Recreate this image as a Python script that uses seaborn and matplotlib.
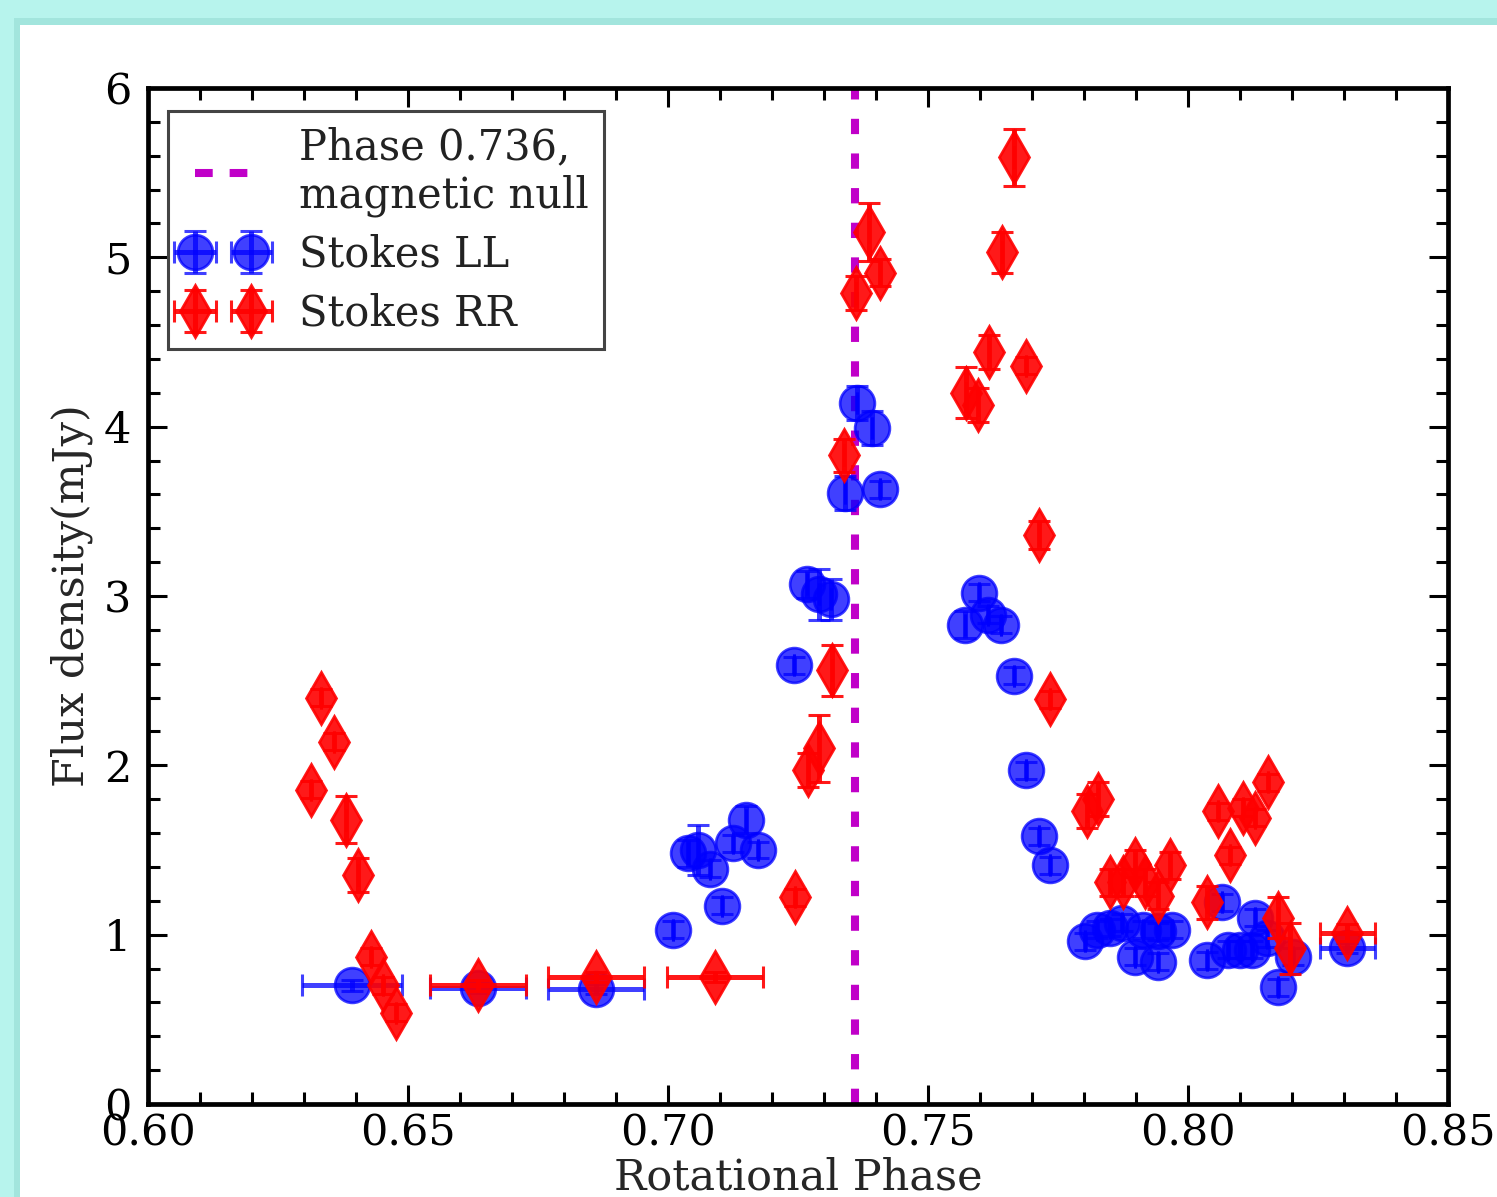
import numpy as np
import pandas as pd
import matplotlib
matplotlib.use("Agg")
import matplotlib.pyplot as plt
from matplotlib.patches import Rectangle
from matplotlib.lines import Line2D
from matplotlib.ticker import MultipleLocator
import seaborn as sns

# ---------------- data ----------------
ll_phase = [0.6392, 0.6635, 0.6862,
            0.7010, 0.7038, 0.7058, 0.7081, 0.7104, 0.7125, 0.7150, 0.7173,
            0.7242, 0.7267, 0.7290, 0.7313,
            0.7340, 0.7363, 0.7392, 0.7408,
            0.7571, 0.7598, 0.7615, 0.7640, 0.7665, 0.7688, 0.7713, 0.7735,
            0.7802, 0.7825, 0.7850, 0.7873, 0.7898, 0.7913, 0.7942, 0.7942,
            0.7969, 0.8037, 0.8065, 0.8077, 0.8100, 0.8123, 0.8129, 0.8152,
            0.8173, 0.8202, 0.8306]
ll_flux = [0.70, 0.685, 0.68,
           1.03, 1.48, 1.50, 1.39, 1.17, 1.54, 1.68, 1.50,
           2.59, 3.07, 3.01, 2.98,
           3.61, 4.14, 3.99, 3.63,
           2.83, 3.02, 2.89, 2.83, 2.53, 1.97, 1.58, 1.41,
           0.96, 1.03, 1.04, 1.07, 0.87, 1.03, 0.84, 1.02,
           1.03, 0.85, 1.19, 0.91, 0.91, 0.91, 1.10, 0.98,
           0.69, 0.87, 0.92]
ll_xerr = [0.0096, 0.0092, 0.0092] + [0.0] * 42 + [0.0053]
ll_yerr = [0.03, 0.03, 0.03,
           0.05, 0.08, 0.15, 0.05, 0.05, 0.05, 0.08, 0.05,
           0.05, 0.08, 0.15, 0.12,
           0.10, 0.10, 0.10, 0.05,
           0.08, 0.05, 0.05, 0.05, 0.05, 0.05, 0.05, 0.05,
           0.05, 0.05, 0.05, 0.05, 0.05, 0.05, 0.05, 0.05,
           0.05, 0.05, 0.05, 0.05, 0.05, 0.05, 0.05, 0.05,
           0.05, 0.05, 0.03]

rr_phase = [0.6313, 0.6333, 0.6358, 0.6381, 0.6404, 0.6429, 0.6452, 0.6477,
            0.6635, 0.6862, 0.7090,
            0.7244, 0.7269, 0.7290, 0.7315, 0.7338, 0.7362, 0.7387, 0.7408,
            0.7573, 0.7596, 0.7617, 0.7642, 0.7665, 0.7688, 0.7713, 0.7735,
            0.7806, 0.7827, 0.7850, 0.7875, 0.7898, 0.7917, 0.7942, 0.7965,
            0.8037, 0.8058, 0.8081, 0.8106, 0.8129, 0.8154, 0.8173, 0.8196,
            0.8306]
rr_flux = [1.855, 2.40, 2.14, 1.68, 1.35, 0.87, 0.70, 0.54,
           0.70, 0.75, 0.75,
           1.22, 1.97, 2.10, 2.56, 3.83, 4.79, 5.15, 4.91,
           4.20, 4.13, 4.44, 5.03, 5.59, 4.36, 3.36, 2.39,
           1.73, 1.80, 1.31, 1.31, 1.42, 1.31, 1.23, 1.41,
           1.19, 1.73, 1.47, 1.75, 1.69, 1.90, 1.10, 0.92,
           1.01]
rr_xerr = [0.0] * 8 + [0.0092, 0.0092, 0.0092] + [0.0] * 32 + [0.0053]
rr_yerr = [0.05, 0.05, 0.05, 0.14, 0.10, 0.05, 0.05, 0.05,
           0.03, 0.03, 0.03,
           0.05, 0.10, 0.20, 0.15, 0.10, 0.10, 0.17, 0.08,
           0.15, 0.10, 0.10, 0.12, 0.17, 0.05, 0.08, 0.05,
           0.10, 0.10, 0.08, 0.08, 0.08, 0.08, 0.08, 0.08,
           0.10, 0.05, 0.05, 0.05, 0.05, 0.05, 0.12, 0.15,
           0.05]

null_phase = 0.736
null_label = "Phase 0.736,\nmagnetic null"
ll_label = "Stokes LL"
rr_label = "Stokes RR"
x_ticks = [0.60, 0.65, 0.70, 0.75, 0.80, 0.85]
y_ticks = [0, 1, 2, 3, 4, 5, 6]

ll = pd.DataFrame({"phase": ll_phase, "flux": ll_flux, "xerr": ll_xerr, "yerr": ll_yerr})
rr = pd.DataFrame({"phase": rr_phase, "flux": rr_flux, "xerr": rr_xerr, "yerr": rr_yerr})

# ---------------- style ----------------
sns.set_theme(style="ticks")
plt.rcParams["font.family"] = ["DejaVu Serif"]
plt.rcParams["mathtext.fontset"] = "dejavuserif"

fig = plt.figure(figsize=(7.485, 5.985), dpi=200)
fig.patch.set_facecolor("#b7f4ed")
# shadow + white panel
fig.add_artist(Rectangle((0.0095, 0.0), 0.995, 0.985, transform=fig.transFigure,
                         facecolor="#8fd8cf", edgecolor="none", alpha=0.5, zorder=-3))
fig.add_artist(Rectangle((0.0134, 0.0), 0.99, 0.979, transform=fig.transFigure,
                         facecolor="white", edgecolor="none", zorder=-2))

ax = fig.add_axes([0.0989, 0.0777, 0.8684, 0.8488])
ax.set_facecolor("white")

ax.axvline(null_phase, color="#c000c8", linestyle=(0, (1.9, 2.4)), lw=2.9, zorder=1)

ax.errorbar(ll["phase"], ll["flux"], xerr=ll["xerr"], yerr=ll["yerr"],
            fmt="o", color="blue", ms=12.5, alpha=0.75, mec="blue",
            elinewidth=1.8, capsize=3.8, capthick=1.1, zorder=2, label=ll_label)
ax.errorbar(rr["phase"], rr["flux"], xerr=rr["xerr"], yerr=rr["yerr"],
            fmt="d", color="red", ms=13, alpha=0.9, mec="red",
            elinewidth=1.8, capsize=3.8, capthick=1.1, zorder=3, label=rr_label)

ax.set_xlim(0.60, 0.85)
ax.set_ylim(0, 6)
ax.set_xticks(x_ticks)
ax.set_xticklabels([f"{v:.2f}" for v in x_ticks])
ax.set_yticks(y_ticks)
ax.set_yticklabels([str(v) for v in y_ticks])
ax.xaxis.set_minor_locator(MultipleLocator(0.01))
ax.yaxis.set_minor_locator(MultipleLocator(0.2))
ax.tick_params(which="both", direction="in", top=True, right=True, colors="black",
               width=1.1, labelsize=15.5)
ax.tick_params(axis="x", pad=3)
ax.tick_params(axis="y", pad=6)
ax.tick_params(which="major", length=7)
ax.tick_params(which="minor", length=4.3)
for s in ax.spines.values():
    s.set_visible(True)
    s.set_linewidth(1.7)
    s.set_color("black")

ax.set_xlabel("Rotational Phase", fontsize=15.5, labelpad=0.8)
ax.set_ylabel("Flux density(mJy)", fontsize=15.5, labelpad=4)

null_handle = Line2D([], [], color="#c000c8", linestyle=(0, (2.2, 2.1)), lw=2.9)
h, l = ax.get_legend_handles_labels()
leg = ax.legend([null_handle] + h, [null_label] + l, loc="upper left",
                bbox_to_anchor=(0.0154, 0.977), borderaxespad=0, fontsize=15,
                numpoints=2, handlelength=1.95, handletextpad=0.85,
                labelspacing=0.4, borderpad=0.35, fancybox=False,
                framealpha=1, edgecolor="#444444")
leg.get_frame().set_linewidth(1.1)
for t in leg.get_texts():
    t.set_color("#222222")

fig.savefig("out.png", dpi=200, facecolor=fig.get_facecolor())
